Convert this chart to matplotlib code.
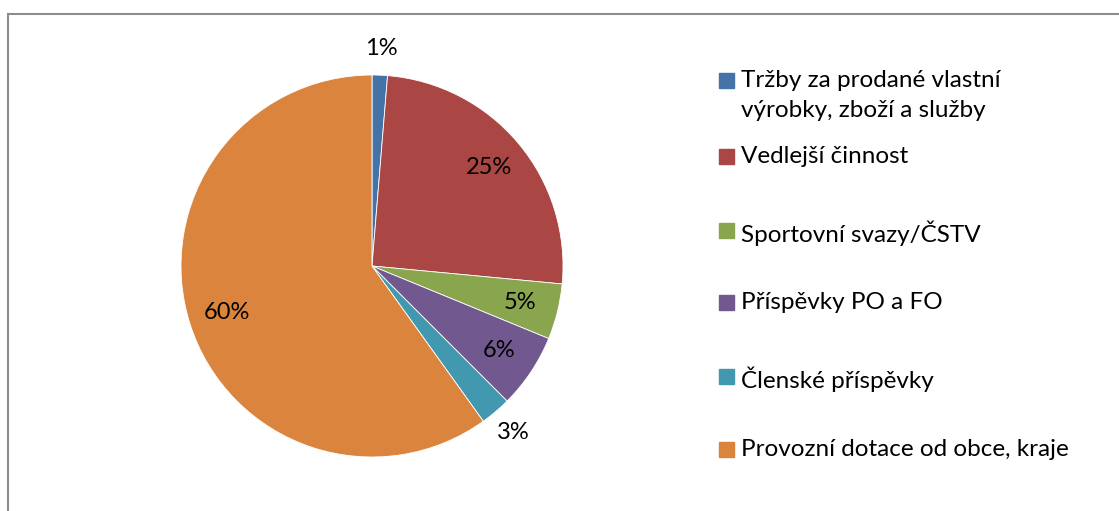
import matplotlib.pyplot as plt
import numpy as np
from matplotlib.patches import Rectangle
from matplotlib.lines import Line2D

plt.rcParams['font.family'] = ['Lato', 'DejaVu Sans']

# -- Data --
labels = ["Tržby za prodané vlastní\nvýrobky, zboží a služby",
          "Vedlejší činnost",
          "Sportovní svazy/ČSTV",
          "Příspěvky PO a FO",
          "Členské příspěvky",
          "Provozní dotace od obce, kraje"]
shares = [1.3, 25.2, 4.7, 6.3, 2.6, 59.9]
colors = ["#4572A7", "#AA4643", "#89A54E", "#71588F", "#4198AF", "#DB843D"]

W, H = 1119, 511
fig = plt.figure(figsize=(W / 100, H / 100), dpi=100)

# chart frame (top and left edges visible)
fig.add_artist(Line2D([8 / W, 1.0], [1 - 14 / H, 1 - 14 / H], color="#8c8c8c", lw=1.5))
fig.add_artist(Line2D([8 / W, 8 / W], [0, 1 - 14 / H], color="#8c8c8c", lw=1.5))

# pie axes: centre (372, 266), radius 191 px
cx, cy, r = 372, 266, 191
ax = fig.add_axes([(cx - r) / W, (H - cy - r) / H, 2 * r / W, 2 * r / H])
wedges, texts, autotexts = ax.pie(shares, colors=colors, startangle=90, counterclock=False,
                                  autopct=lambda p: f"{p:.0f}%", pctdistance=0.8,
                                  wedgeprops=dict(linewidth=0.6, edgecolor="white"),
                                  textprops=dict(fontsize=17, color="black"))
ax.set_xlim(-1, 1)
ax.set_ylim(-1, 1)

# small slices get their label outside
for w, t, v in zip(wedges, autotexts, shares):
    if v < 4:
        ang = np.deg2rad((w.theta1 + w.theta2) / 2)
        t.set_position((1.14 * np.cos(ang), 1.14 * np.sin(ang)))

# legend drawn by hand to keep the Excel-like spacing
rows_y = [81, 157, 231, 303, 377, 450]
for lab, col, y in zip(labels, colors, rows_y):
    fig.add_artist(Rectangle((719 / W, 1 - (y + 7) / H), 15 / W, 15 / H,
                             color=col, transform=fig.transFigure))
    fig.text(741 / W, 1 - (y - 11) / H, lab, fontsize=17.5, va="top", ha="left",
             linespacing=1.55)

fig.savefig("out.png", dpi=100)
